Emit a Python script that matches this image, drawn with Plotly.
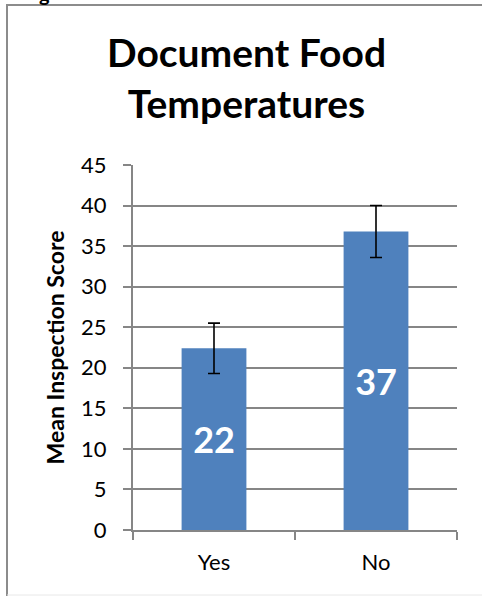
import plotly.graph_objects as go

categories = ["Yes", "No"]
mean_scores = [22.4, 36.8]
error_values = [3.1, 3.2]
bar_labels = ["22", "37"]
y_ticks = [0, 5, 10, 15, 20, 25, 30, 35, 40, 45]

W, H = 482, 596
ML, MR, MT, MB = 133, 25, 165, 66
PW, PH = W - ML - MR, H - MT - MB

FONT = "Lato, 'Open Sans', sans-serif"

fig = go.Figure()
fig.add_trace(go.Bar(
    x=categories, y=mean_scores,
    width=0.4,
    marker=dict(color="#4f81bd", line=dict(width=0)),
    error_y=dict(type="data", array=error_values, visible=True,
                 color="black", thickness=1.6, width=6),
    text=bar_labels, textposition="inside", insidetextanchor="middle",
    textfont=dict(family=FONT, size=36, color="white", weight="bold"),
    textangle=0,
    cliponaxis=False,
))

def px_x(p):
    return (p - ML) / PW

def px_y(p):
    return 1 - (p - MT) / PH

# frame: top and left edges, faint bottom edge
fig.add_shape(type="line", xref="paper", yref="paper",
              x0=px_x(6), x1=px_x(482), y0=px_y(5), y1=px_y(5),
              line=dict(color="#8c8c8c", width=2), layer="below")
fig.add_shape(type="line", xref="paper", yref="paper",
              x0=px_x(7), x1=px_x(7), y0=px_y(5), y1=px_y(596),
              line=dict(color="#8c8c8c", width=2), layer="below")
fig.add_shape(type="line", xref="paper", yref="paper",
              x0=px_x(7), x1=px_x(482), y0=px_y(595), y1=px_y(595),
              line=dict(color="#e8e8e8", width=1), layer="below")

fig.add_annotation(text="<b>Document Food<br>Temperatures</b>",
                   xref="paper", yref="paper",
                   x=px_x(246), y=px_y(78), xanchor="center", yanchor="middle",
                   showarrow=False, align="center",
                   font=dict(family=FONT, size=39, color="black"))

fig.add_annotation(text="<b>g</b>", xref="paper", yref="paper",
                   x=px_x(44), y=px_y(-7), xanchor="center", yanchor="middle",
                   showarrow=False, font=dict(family=FONT, size=20, color="black"))

fig.update_layout(
    width=W, height=H,
    margin=dict(l=ML, r=MR, t=MT, b=MB),
    paper_bgcolor="white", plot_bgcolor="white",
    showlegend=False,
    font=dict(family=FONT, color="black"),
    xaxis=dict(
        showline=True, linecolor="#868686", linewidth=2,
        ticks="outside", tickson="boundaries", ticklen=8, tickcolor="#868686", tickwidth=2,
        tickfont=dict(family=FONT, size=22, color="black"),
        ticklabelstandoff=12,
        showgrid=False, fixedrange=True,
    ),
    yaxis=dict(
        range=[0, 45], tickvals=y_ticks,
        showline=True, linecolor="#868686", linewidth=2,
        ticks="outside", ticklen=8, tickcolor="#868686", tickwidth=2,
        tickfont=dict(family=FONT, size=22, color="black"),
        ticklabelstandoff=12,
        showgrid=True, gridcolor="#868686", gridwidth=1.5,
        zeroline=False,
        title=dict(text="<b>Mean Inspection Score</b>", standoff=10,
                   font=dict(family=FONT, size=23, color="black")),
        fixedrange=True,
    ),
)

fig.write_html("out.html", config={"displayModeBar": False},
               post_script="document.body.style.margin='0';document.body.style.overflow='hidden';")
